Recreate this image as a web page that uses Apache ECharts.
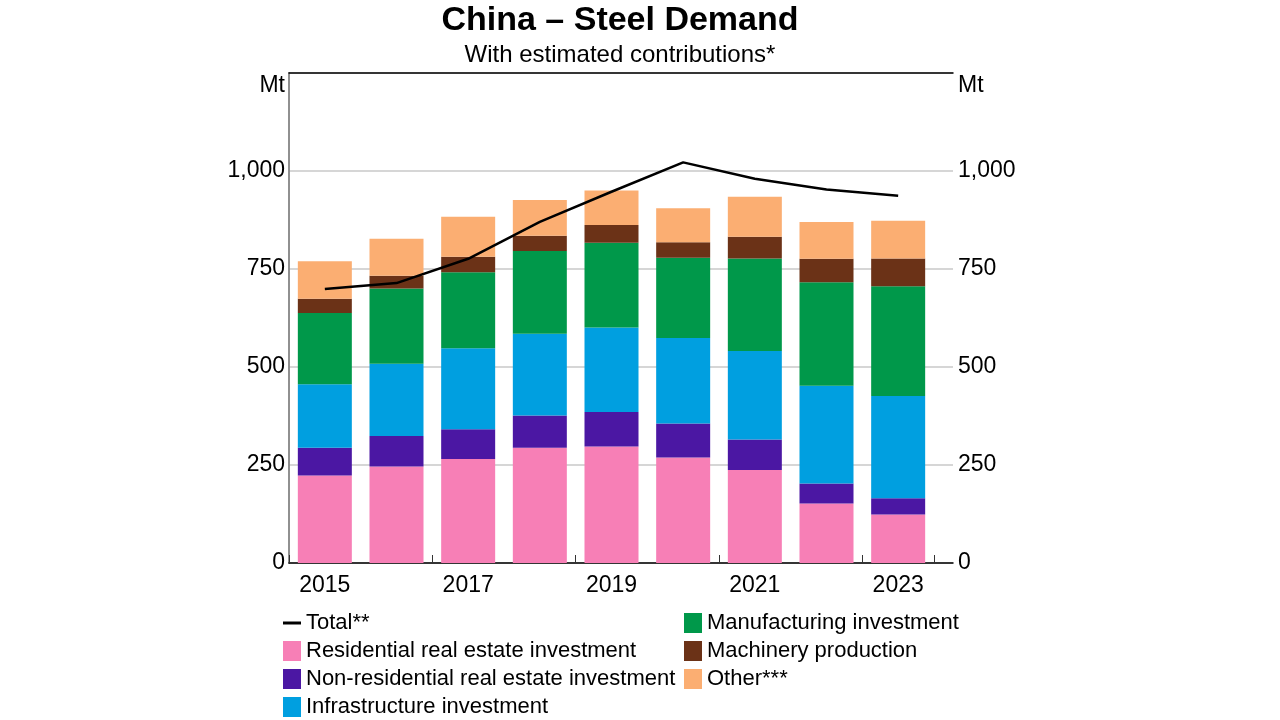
<!DOCTYPE html>
<html>
<head>
<meta charset="utf-8">
<script src="https://cdn.jsdelivr.net/npm/echarts@6/dist/echarts.min.js"></script>
<style>
  html, body { margin: 0; padding: 0; background: #fff; }
  #chart { width: 1280px; height: 720px; }
</style>
</head>
<body>
<div id="chart"></div>
<script>
// data, Mt
var years = ['2015', '2016', '2017', '2018', '2019', '2020', '2021', '2022', '2023'];
var residential = [223, 246, 265, 294, 297, 269, 237, 152, 124];
var nonResidential = [71, 78, 76, 82, 88, 87, 78, 51, 41];
var infrastructure = [162, 184, 207, 209, 216, 218, 226, 249, 261];
var manufacturing = [182, 192, 194, 211, 216, 205, 236, 264, 280];
var machinery = [36, 33, 39, 39, 45, 39, 55, 60, 71];
var other = [96, 94, 102, 91, 88, 87, 102, 94, 96];
var total = [699, 714, 776, 870, 947, 1022, 980, 953, 937];
var yTicks = [0, 250, 500, 750, 1000];

var FONT = 'Liberation Sans, Arial, sans-serif';

var colors = {
  residential: '#f77fb6',
  nonResidential: '#4b17a3',
  infrastructure: '#009fe0',
  manufacturing: '#00984a',
  machinery: '#6b3217',
  other: '#fbae72'
};

function barSeries(name, data, color) {
  return {
    name: name,
    type: 'bar',
    stack: 'demand',
    xAxisIndex: 1,
    yAxisIndex: 2,
    barWidth: 54,
    data: data,
    itemStyle: { color: color },
    emphasis: { disabled: true }
  };
}

function yLabel(v) {
  return yTicks.indexOf(v) >= 0 ? v.toLocaleString('en-US') : '';
}

var legendText = { fontFamily: FONT, fontSize: 22, lineHeight: 22, color: '#000' };

var option = {
  backgroundColor: '#fff',
  animation: false,
  title: [
    {
      text: 'China – Steel Demand',
      left: 615, top: -1, textAlign: 'center',
      textStyle: { fontFamily: FONT, fontSize: 34, fontWeight: 'bold', color: '#000' }
    },
    {
      text: 'With estimated contributions*',
      left: 615, top: 38, textAlign: 'center',
      textStyle: { fontFamily: FONT, fontSize: 24, fontWeight: 'normal', color: '#000' }
    }
  ],
  grid: [
    // outer box with both y axes
    { left: 289, right: 327, top: 73, bottom: 157 },
    // bars sit in a slightly narrower strip, like the original
    { left: 289, right: 346, top: 73, bottom: 157 }
  ],
  graphic: [
    { type: 'text', right: 1280 - 285, top: 74, style: { text: 'Mt', font: '23px ' + FONT, fill: '#000' } },
    { type: 'text', left: 958, top: 74, style: { text: 'Mt', font: '23px ' + FONT, fill: '#000' } }
  ],
  legend: [
    {
      orient: 'vertical', left: 283, top: 612, itemGap: 6, padding: 0,
      itemWidth: 18, itemHeight: 20,
      textStyle: legendText,
      data: [
        { name: 'Total**', icon: 'path://M0,0 M0,8.5 L18,8.5 L18,11.5 L0,11.5 Z M0,20' },
        { name: 'Residential real estate investment', icon: 'rect' },
        { name: 'Non-residential real estate investment', icon: 'rect' },
        { name: 'Infrastructure investment', icon: 'rect' }
      ]
    },
    {
      orient: 'vertical', left: 684, top: 612, itemGap: 6, padding: 0,
      itemWidth: 18, itemHeight: 20,
      textStyle: legendText,
      data: [
        { name: 'Manufacturing investment', icon: 'rect' },
        { name: 'Machinery production', icon: 'rect' },
        { name: 'Other***', icon: 'rect' }
      ]
    }
  ],
  xAxis: [
    {
      // bottom edge of the box
      type: 'value', gridIndex: 0, min: 0, max: 1,
      axisLine: { show: true, onZero: false, lineStyle: { color: '#000', width: 1.5 } },
      axisTick: { show: false }, axisLabel: { show: false }, splitLine: { show: false }
    },
    {
      type: 'category', gridIndex: 1, data: years,
      axisLine: { show: false },
      axisTick: { show: true, inside: true, length: 8, lineStyle: { color: '#333' } },
      axisLabel: {
        interval: 1, margin: 11,
        fontFamily: FONT, fontSize: 23, color: '#000'
      }
    },
    {
      // top edge of the box
      type: 'value', gridIndex: 0, min: 0, max: 1, position: 'top',
      axisLine: { show: true, onZero: false, lineStyle: { color: '#000', width: 1.5 } },
      axisTick: { show: false }, axisLabel: { show: false }, splitLine: { show: false }
    }
  ],
  yAxis: [
    {
      type: 'value', gridIndex: 0, min: 0, max: 1250, interval: 250, position: 'left',
      axisLine: { show: true, lineStyle: { color: '#888', width: 1.5 } },
      axisTick: { show: false },
      splitLine: { show: true, lineStyle: { color: '#c8c8c8', width: 1.5 } },
      axisLabel: { margin: 4, fontFamily: FONT, fontSize: 23, color: '#000', formatter: yLabel }
    },
    {
      type: 'value', gridIndex: 0, min: 0, max: 1250, interval: 250, position: 'right',
      axisLine: { show: true, lineStyle: { color: '#888', width: 1.5 } },
      axisTick: { show: false },
      splitLine: { show: false },
      axisLabel: { margin: 5, fontFamily: FONT, fontSize: 23, color: '#000', formatter: yLabel }
    },
    {
      type: 'value', gridIndex: 1, min: 0, max: 1250, show: false
    }
  ],
  series: [
    barSeries('Residential real estate investment', residential, colors.residential),
    barSeries('Non-residential real estate investment', nonResidential, colors.nonResidential),
    barSeries('Infrastructure investment', infrastructure, colors.infrastructure),
    barSeries('Manufacturing investment', manufacturing, colors.manufacturing),
    barSeries('Machinery production', machinery, colors.machinery),
    barSeries('Other***', other, colors.other),
    {
      name: 'Total**',
      type: 'line',
      xAxisIndex: 1,
      yAxisIndex: 2,
      data: total,
      symbol: 'none',
      z: 5,
      itemStyle: { color: '#000' },
      lineStyle: { color: '#000', width: 2.5 },
      emphasis: { disabled: true }
    }
  ]
};

var chart = echarts.init(document.getElementById('chart'));
chart.setOption(option);
</script>
</body>
</html>
